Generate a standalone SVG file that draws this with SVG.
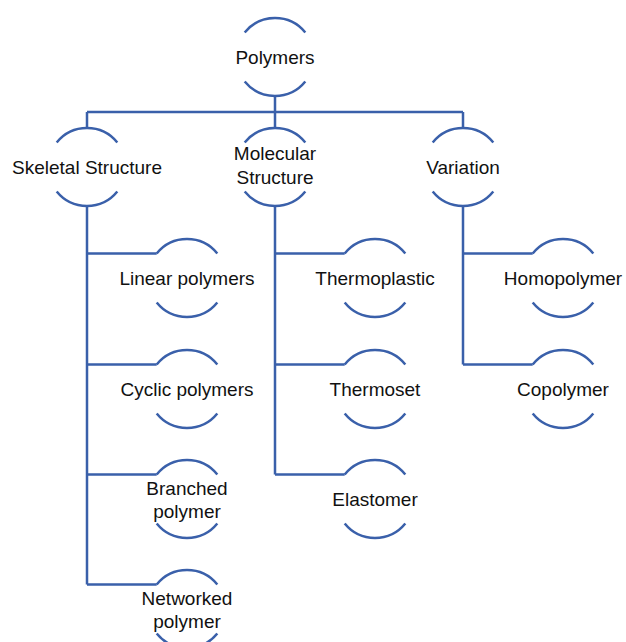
<svg xmlns="http://www.w3.org/2000/svg" xmlns:xlink="http://www.w3.org/1999/xlink" width="626" height="642" viewBox="0 0 626 642">
  <style>
    .ln { fill: none; stroke: #3a60aa; stroke-width: 2.5; }
    .t { font-family: "Liberation Sans", Arial, sans-serif; font-size: 19px; fill: #111; text-anchor: middle; }
  </style>
  <defs>
    <g id="arcs">
      <path class="ln" d="M-30.3 -24.5 A39 39 0 0 1 30.3 -24.5"/>
      <path class="ln" d="M-30.3 24.5 A39 39 0 0 0 30.3 24.5"/>
    </g>
  </defs>
  <rect width="626" height="642" fill="#fff"/>
  <g id="connectors" class="ln">
    <path d="M275 96 V112 M87 112 H463 M87 112 V128 M275 112 V128 M463 112 V128"/>
    <path d="M87 206 V584.5 M87 253.5 H156.7 M87 364.5 H156.7 M87 474.5 H156.7 M87 584.5 H156.7"/>
    <path d="M275 206 V474.5 M275 253.5 H344.7 M275 364.5 H344.7 M275 474.5 H344.7"/>
    <path d="M463 206 V364.5 M463 253.5 H532.7 M463 364.5 H532.7"/>
  </g>
  <g id="polymers"><use xlink:href="#arcs" x="275" y="57"/><text class="t" x="275" y="63.5">Polymers</text></g>
  <g id="skeletal"><use xlink:href="#arcs" x="87" y="167"/><text class="t" x="87" y="173.5">Skeletal Structure</text></g>
  <g id="molecular"><use xlink:href="#arcs" x="275" y="167"/><text class="t" x="275" y="160">Molecular</text><text class="t" x="275" y="184">Structure</text></g>
  <g id="variation"><use xlink:href="#arcs" x="463" y="167"/><text class="t" x="463" y="173.5">Variation</text></g>
  <g id="linear"><use xlink:href="#arcs" x="187" y="278"/><text class="t" x="187" y="284.5">Linear polymers</text></g>
  <g id="cyclic"><use xlink:href="#arcs" x="187" y="389"/><text class="t" x="187" y="395.5">Cyclic polymers</text></g>
  <g id="branched"><use xlink:href="#arcs" x="187" y="499"/><text class="t" x="187" y="495">Branched</text><text class="t" x="187" y="518">polymer</text></g>
  <g id="networked"><use xlink:href="#arcs" x="187" y="609"/><text class="t" x="187" y="605">Networked</text><text class="t" x="187" y="628">polymer</text></g>
  <g id="thermoplastic"><use xlink:href="#arcs" x="375" y="278"/><text class="t" x="375" y="284.5">Thermoplastic</text></g>
  <g id="thermoset"><use xlink:href="#arcs" x="375" y="389"/><text class="t" x="375" y="395.5">Thermoset</text></g>
  <g id="elastomer"><use xlink:href="#arcs" x="375" y="499"/><text class="t" x="375" y="505.5">Elastomer</text></g>
  <g id="homopolymer"><use xlink:href="#arcs" x="563" y="278"/><text class="t" x="563" y="284.5">Homopolymer</text></g>
  <g id="copolymer"><use xlink:href="#arcs" x="563" y="389"/><text class="t" x="563" y="395.5">Copolymer</text></g>
</svg>
